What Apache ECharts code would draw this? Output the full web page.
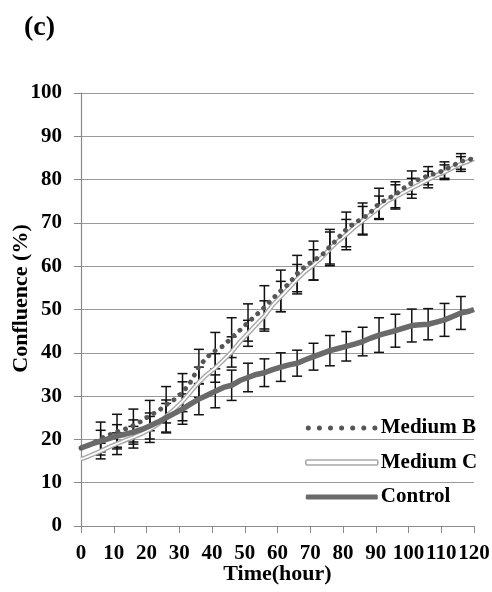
<!DOCTYPE html>
<html>
<head>
<meta charset="utf-8">
<script src="https://cdn.jsdelivr.net/npm/echarts@6/dist/echarts.min.js"></script>
<style>
  html, body { margin: 0; padding: 0; background: #fff; }
  #chart { width: 492px; height: 592px; }
</style>
</head>
<body>
<div id="chart"></div>
<script>
// Sampling times (hours)
const hours = [0, 1, 3.5, 6, 8.5, 11, 13.5, 16, 18.5, 21, 23.5, 26, 28.5, 31, 33.5, 36, 38.5, 41, 43.5, 46,
  48.5, 51, 53.5, 56, 58.5, 61, 63.5, 66, 68.5, 71, 73.5, 76, 78.5, 81, 83.5, 86, 88.5, 91, 93.5, 96,
  98.5, 101, 103.5, 106, 108.5, 111, 113.5, 116, 118.5, 120];

// Confluence (%) per condition
const mediumB = [18, 18.3, 19, 20.2, 21, 21.8, 22.4, 23.2, 24.2, 25.5,
  26.5, 28, 29.2, 30.8, 33.3, 36.8, 39, 40.5, 41.6, 43.5,
  45.2, 47, 48.7, 50.5, 52.5, 54.3, 56, 58.3, 60, 61.3,
  62.5, 64.5, 66.5, 68.5, 70, 71, 72.5, 74.5, 75.5, 76.5,
  78, 79.3, 80.2, 80.9, 81.5, 82.2, 83.2, 84.2, 84.6, 85];
const mediumC = [15.5, 15.7, 16.5, 17.3, 18.2, 19, 19.8, 20.5, 21.3, 22.3,
  23.5, 25.3, 27, 28.8, 31, 33.2, 35, 36.5, 38.3, 40.2,
  42.5, 44.5, 46.5, 48.5, 51, 53, 55, 57, 58.8, 60.3,
  62, 64, 65.8, 67.3, 69, 70.5, 72, 73.5, 75, 76,
  77, 78, 79, 80, 81, 81.7, 82.7, 83.6, 84.3, 84.8];
const control = [18, 18.3, 19, 19.6, 20.2, 20.8, 21.2, 21.7, 22.3, 23.1,
  24, 25, 26, 27, 28.2, 29.3, 30.2, 31.1, 32, 32.5,
  33.6, 34.3, 35, 35.4, 36.1, 36.7, 37.2, 37.6, 38.4, 39.1,
  39.8, 40.5, 41, 41.5, 42, 42.6, 43.4, 44.1, 44.6, 45.1,
  45.7, 46.3, 46.5, 46.6, 47.1, 47.6, 48.4, 49.2, 49.6, 50];

// Error bar times and half-widths (± %)
const errHours = [6, 11, 16, 21, 26, 31, 36, 41, 46, 51, 56, 61, 66, 71, 76, 81, 86, 91, 96, 101, 106, 111, 116];
const errB = [3.8, 4, 3.8, 3.5, 4.2, 4.4, 4, 4.2, 4.6, 4.3, 5, 4.8, 4.2, 4.5, 4, 4, 3.6, 3.5, 3, 2.7, 2.1, 1.9, 1.8];
const errC = [1.8, 2.5, 2.5, 3, 3.8, 4.5, 3.5, 3.3, 3.5, 3, 3.5, 3.5, 3.4, 3.5, 3.9, 3.5, 3.3, 2.7, 2.8, 2.3, 1.9, 1.7, 1.7];
const errCtrl = [2.5, 2.6, 2.8, 3, 3.3, 3.5, 3.6, 3.8, 3.5, 3.3, 3.2, 3.3, 3, 3.1, 3.5, 3.4, 3.3, 4, 3.8, 3.8, 3.6, 3.8, 3.8];

const xTicks = { min: 0, max: 120, step: 10 };
const yTicks = { min: 0, max: 100, step: 10 };

const FONT = '"Liberation Serif", "Times New Roman", serif';

function pairs(vals) {
  return hours.map((h, i) => [h, vals[i]]);
}
function errorData(vals, errs) {
  return errHours.map((h, i) => {
    const v = vals[hours.indexOf(h)];
    return [h, v - errs[i], v + errs[i]];
  });
}
function renderErrorBar(params, api) {
  const x = api.value(0);
  const lo = api.coord([x, api.value(1)]);
  const hi = api.coord([x, api.value(2)]);
  const cap = 5;
  const style = { stroke: '#111', lineWidth: 1.5 };
  return {
    type: 'group',
    children: [
      { type: 'line', shape: { x1: hi[0], y1: hi[1], x2: lo[0], y2: lo[1] }, style },
      { type: 'line', shape: { x1: hi[0] - cap, y1: hi[1], x2: hi[0] + cap, y2: hi[1] }, style },
      { type: 'line', shape: { x1: lo[0] - cap, y1: lo[1], x2: lo[0] + cap, y2: lo[1] }, style }
    ]
  };
}
function errorSeries(vals, errs) {
  return {
    type: 'custom',
    renderItem: renderErrorBar,
    data: errorData(vals, errs),
    encode: { x: 0, y: [1, 2] },
    z: 1,
    silent: true
  };
}

// Legend icon for the dotted series: a row of round dots
const dotIcon = 'path://' + [0, 1, 2, 3, 4, 5, 6].map(i => {
  const cx = 2.5 + i * 11.1;
  return `M${cx - 2.5},2.5a2.5,2.5 0 1,0 5,0a2.5,2.5 0 1,0 -5,0Z`;
}).join('') + 'M0,0M72,5';

const chart = echarts.init(document.getElementById('chart'), null, { renderer: 'canvas' });
chart.setOption({
  backgroundColor: '#ffffff',
  animation: false,
  title: {
    text: '(c)', left: 19, top: 9,
    textStyle: { fontFamily: FONT, fontSize: 28, fontWeight: 'bold', color: '#000' }
  },
  grid: { left: 81, right: 18, top: 93, bottom: 66, containLabel: false, outerBoundsMode: 'none' },
  legend: {
    orient: 'vertical',
    left: 305, top: 417, padding: 0,
    itemWidth: 72, itemHeight: 5, itemGap: 12.5,
    textStyle: { fontFamily: FONT, fontSize: 21, fontWeight: 'bold', color: '#000', lineHeight: 22, padding: [0, 0, 0, -2] },
    data: [
      { name: 'Medium B', icon: dotIcon, itemStyle: { color: '#555555', borderWidth: 0 } },
      { name: 'Medium C', icon: 'roundRect', itemStyle: { color: '#ffffff', borderColor: '#a8a8a8', borderWidth: 1.6 } },
      { name: 'Control', icon: 'roundRect', itemStyle: { color: '#6a6a6a', borderWidth: 0 } }
    ]
  },
  xAxis: {
    type: 'value', min: xTicks.min, max: xTicks.max, interval: xTicks.step,
    name: 'Time(hour)', nameLocation: 'middle', nameGap: 37, nameMoveOverlap: false,
    nameTextStyle: { fontFamily: FONT, fontSize: 22, fontWeight: 'bold', color: '#000' },
    axisLine: { show: true, lineStyle: { color: '#8a8a8a', width: 1.2 } },
    axisTick: { show: true, inside: false, length: 7, lineStyle: { color: '#8a8a8a' } },
    axisLabel: { margin: 17, fontFamily: FONT, fontSize: 21, fontWeight: 'bold', color: '#000' },
    splitLine: { show: false }
  },
  yAxis: {
    type: 'value', min: yTicks.min, max: yTicks.max, interval: yTicks.step,
    name: 'Confluence (%)', nameLocation: 'middle', nameGap: 49, nameMoveOverlap: false,
    nameTextStyle: { fontFamily: FONT, fontSize: 22, fontWeight: 'bold', color: '#000', padding: [0, 0, 0, 22] },
    axisLine: { show: true, lineStyle: { color: '#8a8a8a', width: 1.2 } },
    axisTick: { show: true, inside: false, length: 7, lineStyle: { color: '#8a8a8a' } },
    axisLabel: { margin: 19, fontFamily: FONT, fontSize: 21, fontWeight: 'bold', color: '#000' },
    splitLine: { show: true, lineStyle: { color: '#9a9a9a', width: 1.2 } }
  },
  series: [
    errorSeries(mediumC, errC),
    errorSeries(mediumB, errB),
    errorSeries(control, errCtrl),
    {
      name: 'Medium C', type: 'line', data: pairs(mediumC), showSymbol: false, z: 3,
      lineStyle: { color: '#a8a8a8', width: 4.6 }, itemStyle: { color: '#a8a8a8' }
    },
    {
      name: 'Medium C core', type: 'line', data: pairs(mediumC), showSymbol: false, z: 3,
      lineStyle: { color: '#ffffff', width: 1.8 }, itemStyle: { color: '#ffffff' }
    },
    {
      name: 'Medium B', type: 'line', data: pairs(mediumB), showSymbol: false, z: 4,
      lineStyle: { color: '#555555', width: 4.8, type: [0.1, 8], cap: 'round' }, itemStyle: { color: '#555555' }
    },
    {
      name: 'Control', type: 'line', data: pairs(control), showSymbol: false, z: 5,
      lineStyle: { color: '#6a6a6a', width: 5.5 }, itemStyle: { color: '#6a6a6a' }
    }
  ]
});
</script>
</body>
</html>
